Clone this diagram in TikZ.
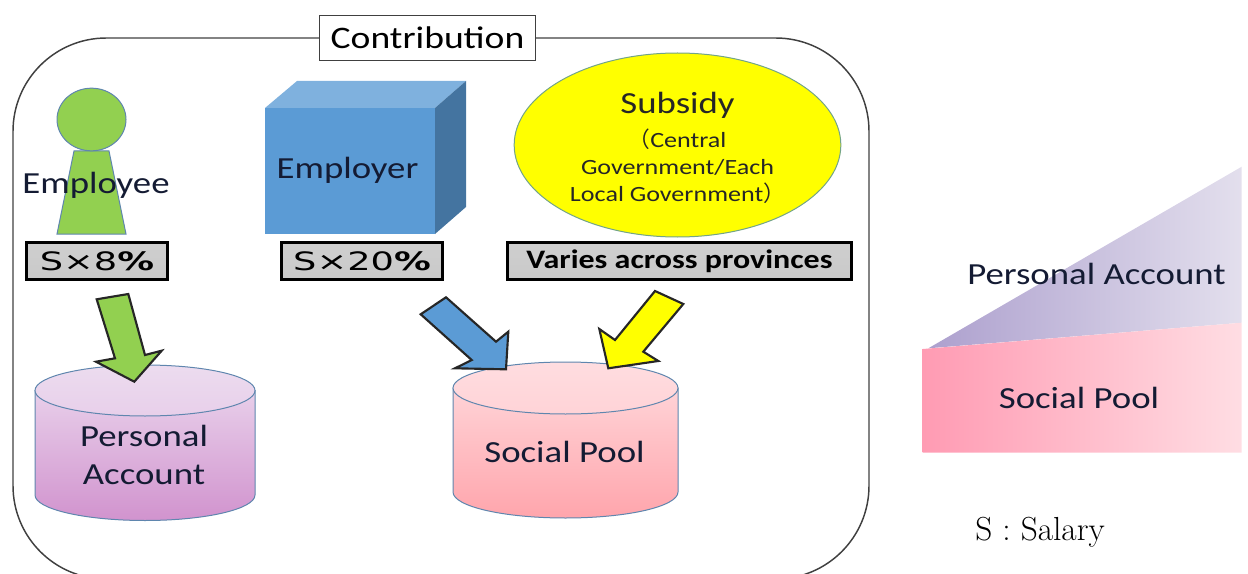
\documentclass[tikz,border=0pt]{standalone}
\usepackage{fontspec}
\usetikzlibrary{shapes.geometric}
\newfontfamily\labelfont[FakeStretch=1.2]{Carlito}
\newfontfamily\ratefont[FakeStretch=1.45]{DejaVu Sans}
\newfontfamily\parenfont{Noto Sans CJK SC}

\definecolor{framegray}{HTML}{404040}
\definecolor{inkblue}{HTML}{141B33}
\definecolor{edgeblue}{HTML}{5F86AE}
\definecolor{headgreen}{HTML}{92D050}
\definecolor{boxblue}{HTML}{5B9BD5}
\definecolor{subsidyyellow}{RGB}{255,255,0}
\definecolor{personallid}{HTML}{ECDCEF}
\definecolor{personaltop}{HTML}{E8CFEA}
\definecolor{personalbottom}{HTML}{D193CE}
\definecolor{sociallid}{HTML}{FFDDE0}
\definecolor{socialtop}{HTML}{FFD3D7}
\definecolor{socialbottom}{HTML}{FFA5AC}
\definecolor{wedgeleft}{HTML}{ADA0CE}
\definecolor{wedgeright}{HTML}{E3DFED}
\definecolor{poolleft}{HTML}{FF9BB3}
\definecolor{poolright}{HTML}{FFDDE3}
\newcommand{\smalllabel}{\fontsize{16.3}{19.5}\selectfont}
\tikzset{every picture/.style={line width=0.75pt}}
\tikzset{
  biglabel/.style={inner sep=0.75pt,text=inkblue,align=center,font=\labelfont\fontsize{23}{28}\selectfont},
  ratebox/.style={draw=black,line width=2.25pt,top color=black!19,bottom color=black!21,minimum height=28pt,inner sep=0pt,text=black},
  ratetext/.style={ratebox,font=\ratefont\fontsize{19}{22}\selectfont},
  blockarrow/.style={draw=black!85,line width=1.6pt,line join=miter}
}

\begin{document}
\begin{tikzpicture}[x=0.75pt,y=0.75pt,yscale=-1,xscale=1]
        \clip [use as bounding box] (0,0) rectangle (1248,574);

        % Frame with title
        \node (contribution) [draw=framegray,line width=1pt,fill=white,minimum width=162pt,minimum height=34pt,inner sep=0pt,text=black,font=\labelfont\fontsize{23.5}{28}\selectfont] at (427.5,38) {Contribution};
        \draw [framegray,line width=1.1pt,rounded corners=70pt] (contribution.west) -- (13,38) -- (13,579) -- (869,579) -- (869,38) -- (contribution.east) ;

        %Shape: Person
        \draw [draw=edgeblue,fill=headgreen]  (74,151) -- (109,151) -- (126,234) -- (57,234) -- cycle ;
        \node (head) [ellipse,draw=edgeblue,fill=headgreen,minimum width=51.75pt,minimum height=47pt,inner sep=0pt] at (91.5,119.5) {};
        %Shape: Cube
        \draw [draw=none,fill=boxblue]  (265,108) -- (435,108) -- (435,234) -- (265,234) -- cycle ;
        \draw [draw=none,fill=boxblue!78!white]  (265,108) -- (297,81) -- (466,81) -- (435,108) -- cycle ;
        \draw [draw=none,fill=boxblue!75!black]  (435,108) -- (466,81) -- (466,207) -- (435,234) -- cycle ;
        %Shape: Ellipse
        \node (subsidy) [ellipse,draw=edgeblue!60!headgreen,fill=subsidyyellow,minimum width=245pt,minimum height=138pt,inner sep=0pt] at (677.5,145) {};

        % Rates
        \node (rate8) [ratetext,minimum width=106pt] at (97,261) {S×8{\bfseries\%}};
        \node (rate20) [ratetext,minimum width=121pt] at (362,261) {S×20{\bfseries\%}};
        \node (ratevaries) [ratebox,minimum width=258pt,font=\labelfont\bfseries\fontsize{20}{22}\selectfont] at (679.5,261) {Varies across provinces};

        %Shape: Can
        \draw [draw=edgeblue,top color=personaltop,bottom color=personalbottom]  (35,390.5) -- (35,495) .. controls (35,509) and (84.25,520.5) .. (145,520.5) .. controls (205.75,520.5) and (255,509) .. (255,495) -- (255,390.5) -- cycle ;
        \draw [draw=edgeblue,top color=personallid,bottom color=personaltop]  (35,390.5) .. controls (35,376.4) and (84.25,365) .. (145,365) .. controls (205.75,365) and (255,376.4) .. (255,390.5) .. controls (255,404.6) and (205.75,416) .. (145,416) .. controls (84.25,416) and (35,404.6) .. (35,390.5) -- cycle ;
        %Shape: Can
        \draw [draw=edgeblue,top color=socialtop,bottom color=socialbottom]  (453,388) -- (453,492) .. controls (453,506.4) and (503.4,518) .. (565.5,518) .. controls (627.6,518) and (678,506.4) .. (678,492) -- (678,388) -- cycle ;
        \draw [draw=edgeblue,top color=sociallid,bottom color=socialtop]  (453,388) .. controls (453,373.6) and (503.4,362) .. (565.5,362) .. controls (627.6,362) and (678,373.6) .. (678,388) .. controls (678,402.4) and (627.6,414) .. (565.5,414) .. controls (503.4,414) and (453,402.4) .. (453,388) -- cycle ;

        %Shape: Arrows
        \draw [blockarrow,fill=headgreen]  (96.7,299.3) -- (128.3,294) -- (145,355) -- (161.7,350.7) -- (134.3,381.7) -- (96,361.7) -- (115,358.3) -- cycle ;
        \draw [blockarrow,fill=boxblue]  (420.7,314.3) -- (446,297.3) -- (496,341.7) -- (508.3,331.7) -- (506,369.3) -- (455,368.3) -- (471.7,360) -- cycle ;
        \draw [blockarrow,fill=subsidyyellow]  (655,291) -- (683.3,304) -- (643.3,351.7) -- (658.3,361) -- (608.3,368.3) -- (599.3,329) -- (615,340) -- cycle ;

        %Shape: Wedges
        \shade [left color=wedgeleft,right color=wedgeright]  (928.3,348.3) -- (1241.7,166.7) -- (1241.7,322.7) -- cycle ;
        \shade [left color=poolleft,right color=poolright]  (922.7,349) -- (1241.7,322.7) -- (1241.7,452.7) -- (922.7,452.7) -- cycle ;

        % Text Node
        \node (employee) [biglabel] at (96,185) {Employee};
        \node (employer) [biglabel] at (347.5,170) {Employer};
        \node (subsidytext) [biglabel,text=black!85] at (677.5,148) {Subsidy\\[-2pt]\smalllabel{\parenfont （}Central\\[-8pt]\smalllabel Government/Each\\[-7.5pt]\smalllabel Local Government{\parenfont ）}};
        \node (personal) [biglabel] at (144,455) {Personal\\Account};
        \node (social) [biglabel] at (564.5,452) {Social Pool};
        \node (personalshare) [biglabel] at (1096.5,274) {Personal Account};
        \node (socialshare) [biglabel] at (1079,398) {Social Pool};
        \node (salary) [inner sep=0.75pt,text=black,font=\fontsize{25}{29}\selectfont] at (1040,532) {S : Salary};

        \end{tikzpicture}
\end{document}
